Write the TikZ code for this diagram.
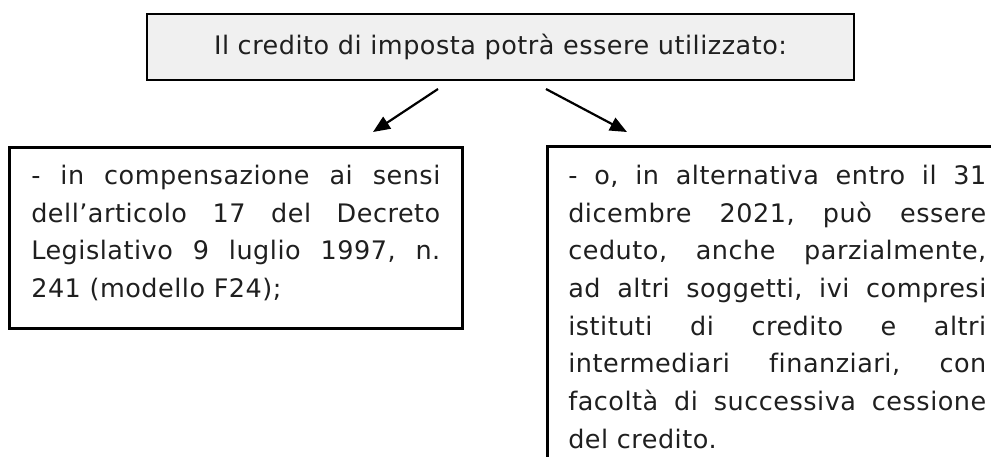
\documentclass[tikz,border=0pt]{standalone}
\usepackage{fontspec}
\setmainfont{DejaVu Sans}
\newfontfamily\testofont[LetterSpace=2,Ligatures={TeX,NoCommon}]{DejaVu Sans}
\usetikzlibrary{arrows.meta}
\definecolor{fondo}{RGB}{240,240,240}
\tolerance=10000
\hbadness=10000
\hyphenpenalty=10000
\frenchspacing
\newcommand{\testo}{\testofont\fontsize{25.5}{37.7}\selectfont}
\tikzset{
	titolo/.style={draw=black, line width=2.8pt, fill=fondo, minimum width=707pt, minimum height=66pt, inner sep=0pt, text=black!88, font=\testo},
	riquadro/.style={draw=black, line width=2.6pt, inner ysep=0pt, align=justify, anchor=north west, text=black!88, font=\testo},
	freccia/.style={line width=2.2pt, -{Triangle[length=17pt,width=14pt]}}
}
\begin{document}
\begin{tikzpicture}[x=1pt,y=-1pt]
	% page of 991 x 456, y grows downwards
	\useasboundingbox (0,0) rectangle (991,456);
	\clip (0,0) rectangle (991,456);
	
	\node[titolo] (T) at (500.5,47) {Il credito di imposta potrà essere utilizzato:};
	
	\node[riquadro, text width=409pt, inner xsep=22pt, text height=37pt, text depth=144pt] (L) at (8,146)
		{- in compensazione ai sensi\linebreak dell’articolo 17 del Decreto\linebreak Legislativo 9 luglio 1997, n.\linebreak 241 (modello F24);};
	\node[riquadro, text width=418pt, inner xsep=21pt, text height=38pt, text depth=340pt] (R) at (546,145)
		{- o, in alternativa entro il 31\linebreak dicembre 2021, può essere\linebreak ceduto, anche parzialmente,\linebreak ad altri soggetti, ivi compresi\linebreak istituti di credito e altri\linebreak intermediari finanziari, con\linebreak facoltà di successiva cessione\linebreak del credito.};
	
	% arrow ends
	\coordinate (A1) at (438,89);
	\coordinate (A2) at (373,132);
	\coordinate (B1) at (546,89);
	\coordinate (B2) at (627,132);
	
	\draw[freccia] (A1) -- (A2);
	\draw[freccia] (B1) -- (B2);
	
\end{tikzpicture}
\end{document}
